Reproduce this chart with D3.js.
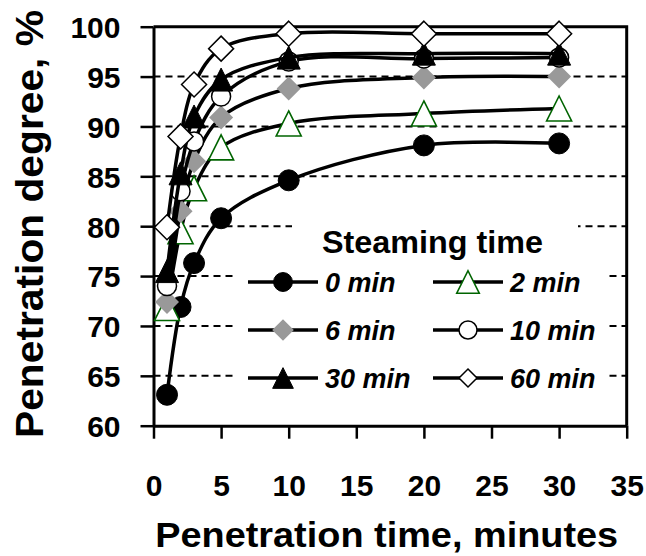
<!DOCTYPE html>
<html>
<head>
<meta charset="utf-8">
<script src="https://cdn.jsdelivr.net/npm/d3@7"></script>
<style>
	body { margin: 0; background: #fff; }
	svg { font-family: Arial, "Liberation Sans", sans-serif; }
	.tick text { font-size: 30px; font-weight: bold; fill: #000; }
	.axis-title { font-weight: bold; fill: #000; }
	.legend-label { font-size: 27px; font-weight: bold; font-style: italic; }
</style>
</head>
<body>
<svg id="viz" width="646" height="556"></svg>
<script>

// penetration time, minutes
const times = [1, 2, 3, 5, 10, 20, 30];

// penetration degree, % for each steaming time
const steam0 = [63.1, 71.9, 76.3, 80.8, 84.6, 88.1, 88.3];
const steam2 = [71.8, 79.5, 83.8, 87.9, 90.3, 91.3, 91.8];
const steam6 = [72.4, 81.5, 86.5, 90.9, 93.8, 94.9, 95.0];
const steam10 = [74.0, 83.5, 88.5, 93.0, 96.5, 96.8, 96.9];
const steam30 = [75.5, 85.3, 91.0, 94.7, 96.9, 97.3, 97.3];
const steam60 = [79.9, 89.0, 94.2, 97.8, 99.3, 99.3, 99.3];

const seriesNames = ["0 min", "2 min", "6 min", "10 min", "30 min", "60 min"];
const seriesValues = [steam0, steam2, steam6, steam10, steam30, steam60];

const xTicks = [0, 5, 10, 15, 20, 25, 30, 35];
const yTicks = [60, 65, 70, 75, 80, 85, 90, 95, 100];
const gridValues = [65, 70, 75, 80, 85, 90, 95];

let svg = d3.select("body").select("svg#viz");

let x = d3.scaleLinear().domain([0, 35]).range([153.5, 626.7]);
let y = d3.scaleLinear().domain([60, 100]).range([425.7, 26.7]);

// marker look for each series
const markers = {
	"0 min":  { shape: "circle",   r: 10.5, fill: "#000", stroke: "#000", sw: 1 },
	"2 min":  { shape: "triangle", r: 12.5, fill: "#fff", stroke: "#006400", sw: 1.6 },
	"6 min":  { shape: "diamond",  r: 12,   fill: "#999", stroke: "none", sw: 0 },
	"10 min": { shape: "circle",   r: 9.5,  fill: "#fff", stroke: "#000", sw: 1.5 },
	"30 min": { shape: "triangle", r: 11.5, fill: "#000", stroke: "#000", sw: 1 },
	"60 min": { shape: "diamond",  r: 12.5, fill: "#fff", stroke: "#000", sw: 1.5 }
};

function markerPath(shape, r) {
	if (shape == "circle") {
		return `M${-r},0A${r},${r} 0 1,0 ${r},0A${r},${r} 0 1,0 ${-r},0Z`;
	}
	if (shape == "triangle") {
		return `M0,${-r}L${r},${r}L${-r},${r}Z`;
	}
	return `M0,${-r}L${r},0L0,${r}L${-r},0Z`;
}

// dashed grid lines
svg.append("g").selectAll("line")
	.data(gridValues)
	.enter().append("line")
	.attr("x1", x(0)).attr("x2", x(35))
	.attr("y1", d => y(d)).attr("y2", d => y(d))
	.attr("stroke", "#000")
	.attr("stroke-width", 2)
	.attr("stroke-dasharray", "7,5");

// frame on top and right
svg.append("path")
	.attr("d", `M${x(0)},${y(100)}H${x(35)}V${y(60)}`)
	.attr("fill", "none")
	.attr("stroke", "#000")
	.attr("stroke-width", 3);

// axes
let xAxis = d3.axisBottom(x).tickValues(xTicks).tickSizeInner(13).tickSizeOuter(0);
let xGroup = svg.append("g").attr("transform", `translate(0,${y(60)})`).call(xAxis);

let yAxis = d3.axisLeft(y).tickValues(yTicks).tickSizeInner(13).tickSizeOuter(0).tickPadding(20);
let yGroup = svg.append("g").attr("transform", `translate(${x(0)},0)`).call(yAxis);

[xGroup, yGroup].forEach(g => {
	g.select(".domain").attr("stroke-width", 3);
	g.selectAll(".tick line").attr("stroke-width", 2.5);
	g.attr("font-family", null).attr("font-size", null);
});
// x labels sit well below the ticks
xGroup.selectAll(".tick text").attr("y", 70).attr("dy", null);
yGroup.selectAll(".tick text").attr("dy", "0.36em");

// axis titles
svg.append("text")
	.attr("class", "axis-title")
	.attr("x", 386.7)
	.attr("y", 547)
	.attr("text-anchor", "middle")
	.attr("font-size", 35)
	.attr("textLength", 463)
	.attr("lengthAdjust", "spacingAndGlyphs")
	.text("Penetration time, minutes");

svg.append("text")
	.attr("class", "axis-title")
	.attr("transform", "translate(43,224) rotate(-90)")
	.attr("text-anchor", "middle")
	.attr("font-size", 39)
	.attr("textLength", 428)
	.attr("lengthAdjust", "spacingAndGlyphs")
	.text("Penetration degree, %");

// series lines and markers
let line = d3.line()
	.x((d, i) => x(times[i]))
	.y(d => y(d))
	.curve(d3.curveCatmullRom);

let plot = svg.append("g").attr("id", "plot");

seriesValues.forEach(function(vals, s) {
	let m = markers[seriesNames[s]];
	let g = plot.append("g");
	g.append("path")
		.attr("d", line(vals))
		.attr("fill", "none")
		.attr("stroke", "#000")
		.attr("stroke-width", 3.5);
	g.selectAll("path.marker")
		.data(vals)
		.enter().append("path")
		.attr("class", "marker")
		.attr("transform", (d, i) => `translate(${x(times[i])},${y(d)})`)
		.attr("d", markerPath(m.shape, m.r))
		.attr("fill", m.fill)
		.attr("stroke", m.stroke)
		.attr("stroke-width", m.sw);
});

// legend
let legend = svg.append("g").attr("id", "legend");

legend.append("rect")
	.attr("x", 292).attr("y", 212).attr("width", 286).attr("height", 48)
	.attr("fill", "#fff");
legend.append("rect")
	.attr("x", 236).attr("y", 260).attr("width", 372).attr("height", 140)
	.attr("fill", "#fff");

legend.append("text")
	.attr("x", 322)
	.attr("y", 253)
	.attr("font-size", 31)
	.attr("font-weight", "bold")
	.attr("textLength", 221)
	.attr("lengthAdjust", "spacingAndGlyphs")
	.text("Steaming time");

const legendCols = [248, 433];
const legendRows = [282, 330, 378];

let items = legend.selectAll("g.item")
	.data(seriesNames)
	.enter().append("g")
	.attr("class", "item")
	.attr("transform", (d, i) => `translate(${legendCols[i % 2]},${legendRows[Math.floor(i / 2)]})`);

items.append("line")
	.attr("x1", 0).attr("x2", 70)
	.attr("stroke", "#000")
	.attr("stroke-width", 3.5);

items.append("path")
	.attr("transform", "translate(35,0)")
	.attr("d", function(d) {
		let m = markers[d];
		let r = (d == "10 min" || d == "60 min") ? 9 : m.r * 0.9;
		return markerPath(m.shape, r);
	})
	.attr("fill", d => markers[d].fill)
	.attr("stroke", d => markers[d].stroke)
	.attr("stroke-width", d => markers[d].sw);

items.append("text")
	.attr("class", "legend-label")
	.attr("x", 77)
	.attr("dy", "0.36em")
	.text(d => d);

</script>
</body>
</html>
